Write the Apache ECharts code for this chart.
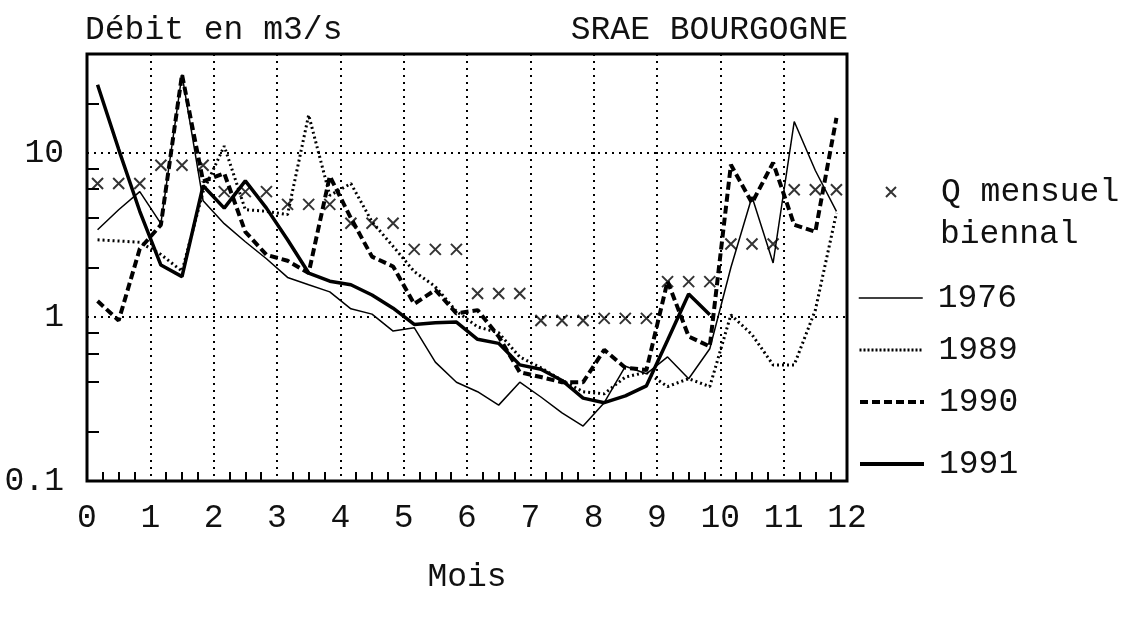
<!DOCTYPE html>
<html>
<head>
<meta charset="utf-8">
<script src="https://cdn.jsdelivr.net/npm/echarts@6/dist/echarts.min.js"></script>
<style>
  html, body { margin: 0; padding: 0; background: #fff; }
  #chart { width: 1126px; height: 618px; }
</style>
</head>
<body>
<div id="chart"></div>
<script>
// ---- data ----
// decades (10-day periods) 1..36 ; positioned at the middle of each decade, in months
const DECADES = [1,2,3,4,5,6,7,8,9,10,11,12,13,14,15,16,17,18,19,20,21,22,23,24,25,26,27,28,29,30,31,32,33,34,35,36];
// monthly biennial discharge (shown on the 3 decades of each month)
const Q_BIENNAL = [6.5, 8.4, 5.8, 4.85, 3.72, 2.58, 1.39, 0.95, 0.98, 1.64, 2.78, 5.95];
const Y1976 = [3.4, 4.5, 5.8, 3.7, 30, 5.1, 3.7, 2.87, 2.26, 1.74, 1.57, 1.42,
               1.12, 1.04, 0.82, 0.86, 0.53, 0.40, 0.35, 0.29, 0.40, 0.325, 0.26, 0.216,
               0.30, 0.50, 0.45, 0.57, 0.42, 0.64, 2.0, 5.4, 2.13, 15.5, 7.8, 4.4];
const Y1989 = [2.95, 2.9, 2.85, 2.4, 1.9, 5.8, 11, 4.5, 4.4, 4.2, 17, 5.5,
               6.5, 3.8, 2.69, 1.89, 1.53, 1.08, 0.87, 0.80, 0.57, 0.49, 0.41, 0.35,
               0.34, 0.43, 0.46, 0.376, 0.42, 0.376, 1.03, 0.78, 0.51, 0.51, 1.1, 4.3];
const Y1990 = [1.25, 0.95, 2.6, 3.64, 30, 6.7, 7.5, 3.3, 2.39, 2.2, 1.85, 7.2,
               4.0, 2.33, 2.03, 1.2, 1.46, 1.05, 1.1, 0.76, 0.46, 0.43, 0.40, 0.40,
               0.63, 0.49, 0.475, 1.65, 0.76, 0.66, 8.45, 4.95, 8.7, 3.64, 3.3, 16.3];
const Y1991 = [26, 10.5, 4.4, 2.07, 1.76, 6.3, 4.6, 6.75, 4.6, 2.95, 1.85, 1.65,
               1.57, 1.36, 1.13, 0.9, 0.92, 0.93, 0.73, 0.69, 0.51, 0.48, 0.41, 0.32,
               0.30, 0.33, 0.38, 0.72, 1.38, 1.03];
const Y_LABELS = [0.1, 1, 10];
const Y_MINOR = [0.2, 0.4, 0.6, 0.8, 2, 4, 6, 8, 20];
const Y_MIN = 0.1, Y_MAX = 40;
const X_MIN = 0, X_MAX = 12;

// ---- derived ----
const decMonth = DECADES.map(d => (d - 0.5) / 3);
const pairs = vals => vals.map((v, i) => [decMonth[i], v]);
const qData = DECADES.map((d, i) => [decMonth[i], Q_BIENNAL[Math.floor(i / 3)]]);
const xMinor = [];
for (let q = 1; q < X_MAX * 4; q++) { if (q % 4 !== 0) xMinor.push(q / 4); }

const FONT = "'Liberation Mono', 'DejaVu Sans Mono', monospace";
const INK = '#111';
const CROSS = 'path://M0,0L10,10M10,0L0,10';
const NOFILL = 'rgba(0,0,0,0)';

const STYLE_1976 = { color: '#000', width: 1.5, type: 'solid' };
const STYLE_1989 = { color: '#000', width: 3, type: [2, 3] };
const STYLE_1990 = { color: '#000', width: 4, type: [8, 4] };
const STYLE_1991 = { color: '#000', width: 3.5, type: 'solid' };

const chart = echarts.init(document.getElementById('chart'), null, { renderer: 'canvas' });

function legendItem(name, centerY, ls) {
  return {
    data: [name],
    orient: 'vertical',
    left: 858,
    top: centerY - 20,
    padding: 0,
    itemWidth: 64,
    itemHeight: 14,
    selectedMode: false,
    itemStyle: { opacity: 0 },
    lineStyle: { color: '#000', width: ls.width, type: ls.type },
    textStyle: { fontFamily: FONT, fontSize: 33, color: INK, lineHeight: 40, padding: [0, 0, 0, 10] }
  };
}

const option = {
  animation: false,
  backgroundColor: '#fff',
  title: [
    { text: 'Débit en m3/s', left: 85, top: 14, padding: 0,
      textStyle: { fontFamily: FONT, fontSize: 33, fontWeight: 'normal', color: INK } },
    { text: 'SRAE BOURGOGNE', right: 278, top: 14, padding: 0,
      textStyle: { fontFamily: FONT, fontSize: 33, fontWeight: 'normal', color: INK } }
  ],
  graphic: [
    { type: 'text', left: 940, top: 218,
      style: { text: 'biennal', font: "33px 'Liberation Mono', 'DejaVu Sans Mono', monospace", fill: INK } }
  ],
  grid: {
    left: 87, right: 279, top: 54, bottom: 137,
    show: true, borderColor: '#000', borderWidth: 3, backgroundColor: 'transparent'
  },
  legend: [
    {
      data: ['Q mensuel biennal'],
      left: 885, top: 192 - 20, padding: 0,
      itemWidth: 10, itemHeight: 10, selectedMode: false,
      formatter: () => 'Q mensuel',
      textStyle: { fontFamily: FONT, fontSize: 33, color: INK, lineHeight: 40, padding: [0, 0, 0, 40] }
    },
    legendItem('1976', 298, STYLE_1976),
    legendItem('1989', 350, { width: 3, type: [2, 2] }),
    legendItem('1990', 402, STYLE_1990),
    legendItem('1991', 464, { width: 4, type: 'solid' })
  ],
  xAxis: [
    {
      type: 'value', min: X_MIN, max: X_MAX, interval: 1,
      name: 'Mois', nameLocation: 'middle', nameGap: 80,
      nameTextStyle: { fontFamily: FONT, fontSize: 33, color: INK },
      axisLine: { show: false }, axisTick: { show: false },
      axisLabel: { fontFamily: FONT, fontSize: 33, color: INK, margin: 21 },
      splitLine: { show: true, lineStyle: { color: '#000', width: 2, type: [2, 5] } }
    },
    {
      type: 'value', min: X_MIN, max: X_MAX, position: 'bottom',
      axisLine: { show: false },
      axisLabel: { show: false },
      splitLine: { show: false },
      axisTick: { show: true, inside: true, length: 9, customValues: xMinor,
                  lineStyle: { color: '#000', width: 2 } }
    }
  ],
  yAxis: [
    {
      type: 'log', logBase: 10, min: Y_MIN, max: Y_MAX,
      axisLine: { show: false }, axisTick: { show: false },
      axisLabel: {
        fontFamily: FONT, fontSize: 33, color: INK, margin: 23,
        formatter: v => {
          const hit = Y_LABELS.find(l => Math.abs(Math.log10(v) - Math.log10(l)) < 1e-6);
          return hit === undefined ? '' : String(hit);
        }
      },
      splitLine: { show: true, lineStyle: { color: '#000', width: 2, type: [2, 5] } }
    },
    {
      type: 'value', min: Math.log10(Y_MIN), max: Math.log10(Y_MAX), position: 'left',
      axisLine: { show: false },
      axisLabel: { show: false },
      splitLine: { show: false },
      axisTick: { show: true, inside: true, length: 12, customValues: Y_MINOR.map(v => Math.log10(v)),
                  lineStyle: { color: '#000', width: 2 } }
    }
  ],
  series: [
    {
      name: 'Q mensuel biennal', type: 'scatter', xAxisIndex: 0, yAxisIndex: 0,
      symbol: CROSS, symbolSize: 11,
      itemStyle: { color: NOFILL, borderColor: '#000', borderWidth: 2 },
      data: qData, z: 5
    },
    {
      name: '1976', type: 'line', xAxisIndex: 0, yAxisIndex: 0, symbol: 'none',
      itemStyle: { color: NOFILL }, lineStyle: STYLE_1976, data: pairs(Y1976)
    },
    {
      name: '1989', type: 'line', xAxisIndex: 0, yAxisIndex: 0, symbol: 'none',
      itemStyle: { color: NOFILL }, lineStyle: STYLE_1989, data: pairs(Y1989)
    },
    {
      name: '1990', type: 'line', xAxisIndex: 0, yAxisIndex: 0, symbol: 'none',
      itemStyle: { color: NOFILL }, lineStyle: STYLE_1990, data: pairs(Y1990)
    },
    {
      name: '1991', type: 'line', xAxisIndex: 0, yAxisIndex: 0, symbol: 'none',
      itemStyle: { color: NOFILL }, lineStyle: STYLE_1991, data: pairs(Y1991)
    }
  ]
};
chart.setOption(option);
</script>
</body>
</html>
